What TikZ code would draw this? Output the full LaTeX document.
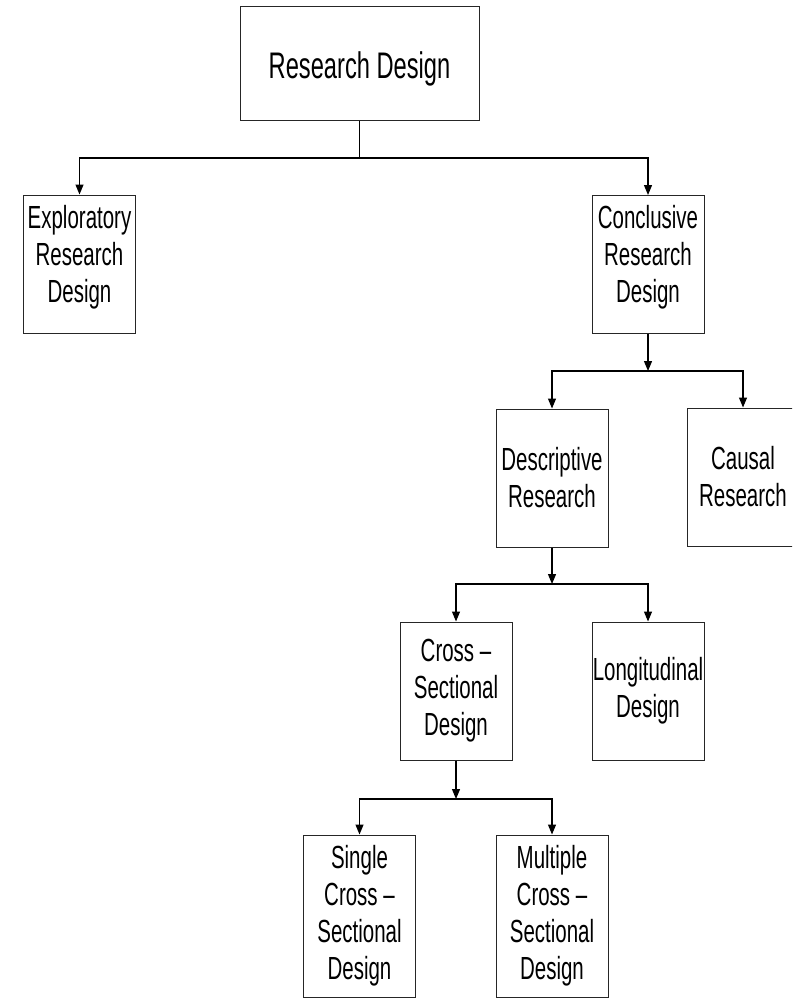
\documentclass[tikz,border=0pt]{standalone}
\usepackage{fontspec}
\setmainfont{Liberation Sans}
\newfontfamily\boxfont[FakeStretch=0.64]{Liberation Sans} % tall, narrow lettering
\usetikzlibrary{arrows.meta}

\tikzset{
  box/.style={draw=black!85, line width=1pt, minimum width=112pt, minimum height=138pt,
    inner sep=0pt, align=center, font=\boxfont\fontsize{32}{37}\selectfont},
  link/.style={line width=1.2pt, black},
  arrow/.style={link, -{Triangle[length=10pt,width=8pt]}}
}

\begin{document}
\begin{tikzpicture}[x=1pt, y=-1pt]
    \useasboundingbox (0,0) rectangle (792,998);
    \clip (0,0) rectangle (792,998);

    % Top of the tree
    \node[box, minimum width=239pt, minimum height=113pt, text height=30pt, text depth=0pt,
      font=\boxfont\fontsize{37}{42}\selectfont] (design) at (359.5,63.5) {Research Design};

    % Second row (text sits a little high in these)
    \node[box, text depth=21pt] (explo) at (79.5,264) {Exploratory\\Research\\Design};
    \node[box, text depth=21pt] (concl) at (648,264.5) {Conclusive\\Research\\Design};

    % Third row
    \node[box] (desc) at (552,478) {Descriptive\\Research};
    \node[box] (causal) at (743,477) {Causal\\Research};

    % Fourth row
    \node[box] (cross) at (456,691) {Cross –\\Sectional\\Design};
    \node[box] (longi) at (648,691) {Longitudinal\\Design};

    % Last row
    \node[box, minimum height=162pt] (single) at (359.5,916) {Single\\Cross –\\Sectional\\Design};
    \node[box, minimum height=162pt] (multi) at (552,916) {Multiple\\Cross –\\Sectional\\Design};

    % Junction points on the horizontal bars
    \coordinate (j1) at (359.5,158);
    \coordinate (j2) at (648,371);
    \coordinate (j3) at (552,584);
    \coordinate (j4) at (456,799);

    \draw[link] (design.south) -- (j1);
    \draw[arrow] (j1) -| (explo.north);
    \draw[arrow] (j1) -| (concl.north);

    % Each lower split: arrow down to the bar, then arrows to both children
    \foreach \parent/\junc/\kida/\kidb in {concl/j2/desc/causal, desc/j3/cross/longi, cross/j4/single/multi} {
      \draw[arrow] (\parent.south) -- (\junc);
      \draw[arrow] (\junc) -| (\kida.north);
      \draw[arrow] (\junc) -| (\kidb.north);
    }
\end{tikzpicture}
\end{document}
